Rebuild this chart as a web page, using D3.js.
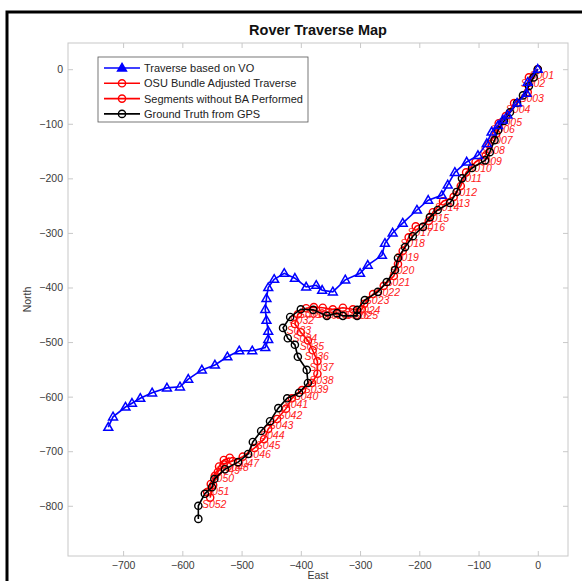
<!DOCTYPE html>
<html>
<head>
<meta charset="utf-8">
<script src="https://cdn.jsdelivr.net/npm/d3@7"></script>
<style>
  html, body { margin: 0; padding: 0; background: #fff; }
  svg { display: block; font-family: "Liberation Sans", Arial, Helvetica, sans-serif; }
</style>
</head>
<body>
<svg id="chart" width="582" height="581"></svg>
<script>
// Traverse based on visual odometry (East, North)
const voEast  = [0,-17,-19,-35,-51,-59,-67,-78,-86,-101,-120,-140,-152,-162,-185,-204,-228,-245,-258,-263,-287,-300,-325,-346,-364,-374,-391,-410,-428,-445,-455,-458,-460,-458,-455,-455,-460,-482,-504,-524,-545,-567,-590,-604,-626,-651,-671,-685,-696,-717,-725];
const voNorth = [0,-24,-44,-62,-84,-93,-103,-115,-136,-158,-170,-189,-212,-231,-240,-258,-282,-300,-319,-341,-359,-374,-386,-408,-405,-396,-399,-383,-374,-385,-400,-420,-440,-460,-480,-495,-510,-516,-516,-527,-542,-551,-568,-582,-584,-593,-603,-612,-619,-637,-656];

// OSU bundle adjusted traverse, one point per segment S001..S052
const baEast  = [0,-15,-17,-40,-54,-66,-70,-83,-88,-105,-121,-130,-142,-160,-177,-184,-206,-218,-228,-236,-243,-260,-278,-293,-297,-312,-329,-346,-363,-378,-391,-405,-410,-400,-388,-380,-372,-372,-381,-398,-415,-425,-440,-455,-462,-478,-498,-515,-530,-540,-548,-553];
const baNorth = [0,-15,-42,-62,-86,-99,-118,-137,-158,-170,-189,-214,-234,-242,-262,-278,-288,-308,-333,-357,-379,-397,-412,-430,-440,-440,-437,-440,-437,-436,-438,-449,-467,-482,-497,-515,-535,-558,-575,-588,-603,-622,-641,-659,-678,-694,-710,-718,-724,-738,-762,-785];
const segLabels = baEast.map((_, i) => "S" + String(i + 1).padStart(3, "0"));

// Segments where bundle adjustment was not performed
const noBaEast  = [-520,-530,-538,-545,-552,-558];
const noBaNorth = [-712,-716,-728,-745,-760,-775];

// GPS ground truth
const gpsEast  = [0,-7,-15,-25,-35,-47,-57,-67,-73,-81,-89,-111,-128,-137,-148,-169,-182,-194,-211,-224,-236,-241,-255,-270,-292,-305,-305,-329,-339,-356,-379,-400,-418,-430,-422,-410,-405,-390,-388,-403,-423,-438,-452,-467,-481,-489,-506,-528,-546,-550,-562,-573,-573];
const gpsNorth = [0,-15,-31,-48,-62,-79,-95,-112,-130,-152,-167,-181,-200,-225,-245,-258,-271,-289,-306,-326,-346,-368,-390,-408,-423,-441,-452,-452,-447,-452,-441,-440,-454,-474,-493,-505,-527,-551,-575,-593,-603,-621,-645,-663,-683,-705,-720,-733,-751,-766,-778,-800,-824];

const xTicks = [-700,-600,-500,-400,-300,-200,-100,0];
const yTicks = [0,-100,-200,-300,-400,-500,-600,-700,-800];

const legendItems = [
  { label: "Traverse based on VO", color: "#0000ff", marker: "triangle" },
  { label: "OSU Bundle Adjusted Traverse", color: "#ff0000", marker: "circle" },
  { label: "Segments without BA Performed", color: "#ff0000", marker: "circle" },
  { label: "Ground Truth from GPS", color: "#000000", marker: "circle" }
];

const svg = d3.select("#chart");
const plot = { left: 68, right: 568, top: 43, bottom: 556 };

const x = d3.scaleLinear().domain([-793, 51]).range([plot.left, plot.right]);
const y = d3.scaleLinear().domain([-892, 48]).range([plot.bottom, plot.top]);

// outer figure frame
svg.append("rect")
  .attr("x", 7).attr("y", 12).attr("width", 620).attr("height", 620)
  .attr("fill", "#fff").attr("stroke", "#000").attr("stroke-width", 3);

// axes box
svg.append("rect")
  .attr("x", plot.left).attr("y", plot.top)
  .attr("width", plot.right - plot.left).attr("height", plot.bottom - plot.top)
  .attr("fill", "#fff").attr("stroke", "#c8c8c8").attr("stroke-width", 1);

const tickLen = 5;
const axisColor = "#c8c8c8";
const labelColor = "#3a3a3a";

// x axis ticks (bottom and top), labels at bottom
const xAxisBottom = d3.axisBottom(x).tickValues(xTicks).tickSize(-tickLen).tickPadding(6).tickFormat(d3.format("d"));
const gxb = svg.append("g").attr("transform", `translate(0,${plot.bottom})`).call(xAxisBottom);
const xAxisTop = d3.axisTop(x).tickValues(xTicks).tickSize(-tickLen).tickFormat("");
const gxt = svg.append("g").attr("transform", `translate(0,${plot.top})`).call(xAxisTop);

// y axis ticks (left and right), labels at left
const yAxisLeft = d3.axisLeft(y).tickValues(yTicks).tickSize(-tickLen).tickPadding(5).tickFormat(d3.format("d"));
const gyl = svg.append("g").attr("transform", `translate(${plot.left},0)`).call(yAxisLeft);
const yAxisRight = d3.axisRight(y).tickValues(yTicks).tickSize(-tickLen).tickFormat("");
const gyr = svg.append("g").attr("transform", `translate(${plot.right},0)`).call(yAxisRight);

[gxb, gxt, gyl, gyr].forEach(g => {
  g.select(".domain").remove();
  g.selectAll(".tick line").attr("stroke", axisColor);
  g.selectAll(".tick text").attr("fill", labelColor).attr("font-size", 10.5)
    .attr("font-family", "Liberation Sans, Arial, sans-serif");
});

// axis titles and chart title
svg.append("text").attr("x", (plot.left + plot.right) / 2).attr("y", 578.5)
  .attr("text-anchor", "middle").attr("font-size", 10.5).attr("fill", labelColor).text("East");
svg.append("text").attr("transform", `translate(31,${(plot.top + plot.bottom) / 2}) rotate(-90)`)
  .attr("text-anchor", "middle").attr("font-size", 10.5).attr("fill", labelColor).text("North");
svg.append("text").attr("x", (plot.left + plot.right) / 2).attr("y", 35)
  .attr("text-anchor", "middle").attr("font-size", 14.5).attr("font-weight", "bold").attr("fill", "#111")
  .text("Rover Traverse Map");

const line = d3.line().x(d => x(d[0])).y(d => y(d[1]));
const zip = (a, b) => a.map((v, i) => [v, b[i]]);

const tri = d3.symbol().type(d3.symbolTriangle).size(34);

function drawSeries(pts, color, marker) {
  const g = svg.append("g");
  g.append("path").datum(pts).attr("d", line)
    .attr("fill", "none").attr("stroke", color).attr("stroke-width", 1.6);
  if (marker === "circle") {
    g.selectAll("circle").data(pts).join("circle")
      .attr("cx", d => x(d[0])).attr("cy", d => y(d[1])).attr("r", 3.6)
      .attr("fill", "none").attr("stroke", color).attr("stroke-width", 1.4);
  } else {
    g.selectAll("path.m").data(pts).join("path").attr("class", "m")
      .attr("transform", d => `translate(${x(d[0])},${y(d[1]) + 0.5})`)
      .attr("d", tri).attr("fill", "none").attr("stroke", color).attr("stroke-width", 1.5);
  }
}

const baPts = zip(baEast, baNorth);
drawSeries(baPts, "#ff0000", "circle");
drawSeries(zip(noBaEast, noBaNorth), "#ff0000", "circle");

// segment labels
svg.append("g").selectAll("text").data(baPts).join("text")
  .attr("x", d => x(d[0]) + 4).attr("y", d => y(d[1]) + 10)
  .attr("text-anchor", "middle").attr("font-size", 10.5).attr("font-style", "italic")
  .attr("fill", "#ff2020").text((d, i) => segLabels[i]);

drawSeries(zip(gpsEast, gpsNorth), "#000000", "circle");
drawSeries(zip(voEast, voNorth), "#0000ff", "triangle");

// legend
const lg = svg.append("g");
lg.append("rect").attr("x", 98).attr("y", 57).attr("width", 210).attr("height", 65)
  .attr("fill", "#fff").attr("stroke", "#555").attr("stroke-width", 0.8);
legendItems.forEach((it, i) => {
  const cy = 68 + i * 15.3;
  lg.append("line").attr("x1", 104).attr("x2", 140).attr("y1", cy).attr("y2", cy)
    .attr("stroke", it.color).attr("stroke-width", 1.6);
  if (it.marker === "circle") {
    lg.append("circle").attr("cx", 122).attr("cy", cy).attr("r", 3.6)
      .attr("fill", "none").attr("stroke", it.color).attr("stroke-width", 1.4);
  } else {
    lg.append("path").attr("transform", `translate(122,${cy + 0.5})`).attr("d", tri)
      .attr("fill", it.color).attr("stroke", it.color).attr("stroke-width", 1.5);
  }
  lg.append("text").attr("x", 144).attr("y", cy + 4).attr("font-size", 11).attr("fill", "#222")
    .text(it.label);
});
</script>
</body>
</html>
